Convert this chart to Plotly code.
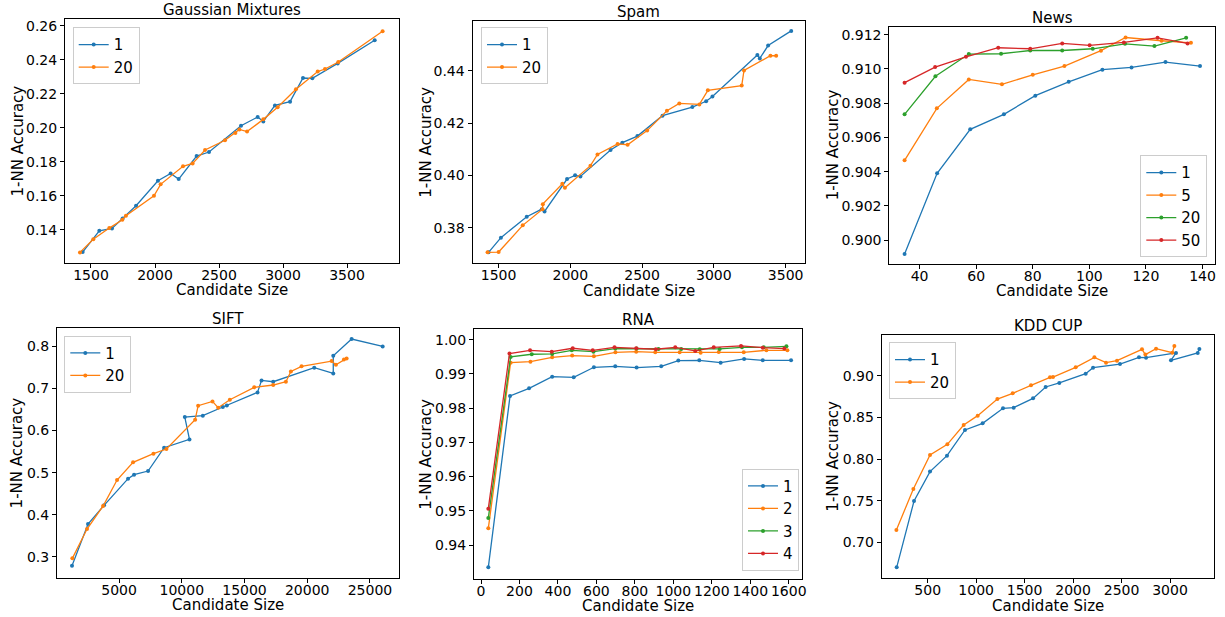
import plotly.graph_objects as go

# ---------------- data ----------------
gm_x1 = [1435, 1565, 1664, 1747, 1852, 2023, 2122, 2185, 2325, 2422, 2672, 2802, 2846, 2937, 3055, 3156, 3229, 3427, 3716]
gm_y1 = [0.1269, 0.1394, 0.1408, 0.1467, 0.1541, 0.1688, 0.1731, 0.1698, 0.1833, 0.1857, 0.2012, 0.2063, 0.2037, 0.2131, 0.2153, 0.2292, 0.2290, 0.2378, 0.2514]
gm_x20 = [1414, 1518, 1643, 1745, 1773, 1992, 2044, 2219, 2294, 2391, 2547, 2628, 2659, 2719, 2846, 2958, 3101, 3271, 3328, 3432, 3778]
gm_y20 = [0.1267, 0.1344, 0.1410, 0.1459, 0.1483, 0.1600, 0.1667, 0.1773, 0.1790, 0.1869, 0.1926, 0.1969, 0.1990, 0.1977, 0.2049, 0.2120, 0.2226, 0.2330, 0.2345, 0.2386, 0.2567]

sp_x1 = [1430, 1516, 1696, 1801, 1820, 1977, 2033, 2070, 2280, 2362, 2467, 2642, 2850, 2946, 2990, 3303, 3320, 3378, 3539]
sp_y1 = [0.3706, 0.3762, 0.3842, 0.3871, 0.3862, 0.3986, 0.4000, 0.3996, 0.4097, 0.4125, 0.4150, 0.4228, 0.4261, 0.4283, 0.4301, 0.4460, 0.4447, 0.4496, 0.4552]
sp_x20 = [1423, 1500, 1668, 1806, 1808, 1944, 1962, 2140, 2189, 2329, 2399, 2535, 2673, 2759, 2899, 2958, 3194, 3210, 3394, 3434]
sp_y20 = [0.3706, 0.3707, 0.3809, 0.3871, 0.3890, 0.3968, 0.3953, 0.4037, 0.4080, 0.4120, 0.4117, 0.4171, 0.4247, 0.4275, 0.4271, 0.4325, 0.4343, 0.4401, 0.4457, 0.4457]

nw_x1 = [34.7, 46.2, 57.9, 69.8, 80.9, 92.7, 104.6, 114.9, 126.9, 139.1]
nw_y1 = [0.89919, 0.90390, 0.90647, 0.90735, 0.90844, 0.90925, 0.90996, 0.91009, 0.91040, 0.91017]
nw_x5 = [34.7, 46.1, 57.4, 69.1, 80.0, 91.2, 104.1, 112.8, 125.5, 135.9]
nw_y5 = [0.90466, 0.90770, 0.90939, 0.90910, 0.90966, 0.91017, 0.91107, 0.91184, 0.91165, 0.91153]
nw_x20 = [34.7, 45.6, 57.4, 68.8, 79.1, 90.4, 101.2, 112.6, 123.0, 134.2]
nw_y20 = [0.90735, 0.90957, 0.91087, 0.91089, 0.91108, 0.91108, 0.91118, 0.91147, 0.91134, 0.91182]
nw_x50 = [34.7, 45.5, 56.4, 67.8, 79.1, 90.4, 100.1, 112.2, 124.1, 134.7]
nw_y50 = [0.90920, 0.91011, 0.91071, 0.91124, 0.91118, 0.91149, 0.91138, 0.91155, 0.91182, 0.91149]

sf_x1 = [1249, 2526, 3803, 5718, 6197, 7314, 8591, 10613, 10240, 11677, 13273, 13592, 16039, 16358, 17289, 20561, 22077, 22077, 23540, 26014]
sf_y1 = [0.2789, 0.3779, 0.4222, 0.4856, 0.4951, 0.5038, 0.5592, 0.5790, 0.6321, 0.6353, 0.6559, 0.6598, 0.6907, 0.7192, 0.7160, 0.7493, 0.7358, 0.7778, 0.8174, 0.8000]
sf_x20 = [1276, 2446, 3723, 4840, 6117, 7740, 8777, 11065, 11304, 12448, 12900, 13831, 15773, 17289, 18300, 18699, 19550, 21944, 22290, 22928, 23141]
sf_y20 = [0.2963, 0.3660, 0.4206, 0.4824, 0.5244, 0.5450, 0.5561, 0.6258, 0.6590, 0.6693, 0.6543, 0.6733, 0.7026, 0.7082, 0.7160, 0.7406, 0.7525, 0.7651, 0.7564, 0.7691, 0.7715]

rn_x1 = [38, 151, 250, 370, 482, 587, 698, 809, 937, 1026, 1135, 1246, 1368, 1465, 1612]
rn_y1 = [0.93350, 0.98354, 0.98578, 0.98919, 0.98900, 0.99192, 0.99221, 0.99182, 0.99221, 0.99387, 0.99396, 0.99328, 0.99435, 0.99396, 0.99396]
rn_x2 = [38, 154, 257, 370, 474, 587, 699, 807, 906, 1033, 1142, 1236, 1366, 1484, 1593]
rn_y2 = [0.94489, 0.99328, 0.99357, 0.99484, 0.99533, 0.99513, 0.99630, 0.99649, 0.99630, 0.99630, 0.99620, 0.99640, 0.99630, 0.99688, 0.99688]
rn_x3 = [38, 154, 264, 370, 472, 585, 698, 809, 923, 1041, 1137, 1241, 1357, 1470, 1588]
rn_y3 = [0.94791, 0.99494, 0.99572, 0.99581, 0.99688, 0.99649, 0.99737, 0.99737, 0.99727, 0.99727, 0.99718, 0.99727, 0.99776, 0.99776, 0.99805]
rn_x4 = [38, 148, 255, 368, 477, 581, 694, 807, 909, 1010, 1114, 1210, 1352, 1465, 1577]
rn_y4 = [0.95063, 0.99591, 0.99688, 0.99649, 0.99747, 0.99688, 0.99776, 0.99747, 0.99718, 0.99776, 0.99669, 0.99776, 0.99815, 0.99766, 0.99737]

kd_x1 = [180, 359, 524, 699, 885, 1067, 1277, 1387, 1587, 1717, 1858, 2130, 2206, 2484, 2680, 2753, 3062, 3010, 3286, 3303]
kd_y1 = [0.6699, 0.7497, 0.7850, 0.8042, 0.8351, 0.8431, 0.8611, 0.8619, 0.8731, 0.8868, 0.8916, 0.9028, 0.9100, 0.9144, 0.9224, 0.9220, 0.9277, 0.9188, 0.9277, 0.9325]
kd_x20 = [177, 352, 524, 703, 871, 1016, 1219, 1377, 1566, 1762, 1793, 2027, 2220, 2340, 2453, 2711, 2746, 2856, 3024, 3045]
kd_y20 = [0.7148, 0.7641, 0.8050, 0.8178, 0.8411, 0.8523, 0.8723, 0.8792, 0.8888, 0.8984, 0.8988, 0.9104, 0.9224, 0.9160, 0.9184, 0.9321, 0.9257, 0.9329, 0.9281, 0.9361]

titles = ["Gaussian Mixtures", "Spam", "News", "SIFT", "RNA", "KDD CUP"]
x_label = "Candidate Size"
y_label = "1-NN Accuracy"

panels = [
    [("1", gm_x1, gm_y1), ("20", gm_x20, gm_y20)],
    [("1", sp_x1, sp_y1), ("20", sp_x20, sp_y20)],
    [("1", nw_x1, nw_y1), ("5", nw_x5, nw_y5), ("20", nw_x20, nw_y20), ("50", nw_x50, nw_y50)],
    [("1", sf_x1, sf_y1), ("20", sf_x20, sf_y20)],
    [("1", rn_x1, rn_y1), ("2", rn_x2, rn_y2), ("3", rn_x3, rn_y3), ("4", rn_x4, rn_y4)],
    [("1", kd_x1, kd_y1), ("20", kd_x20, kd_y20)],
]

x_ticks = [
    [1500, 2000, 2500, 3000, 3500],
    [1500, 2000, 2500, 3000, 3500],
    [40, 60, 80, 100, 120, 140],
    [5000, 10000, 15000, 20000, 25000],
    [0, 200, 400, 600, 800, 1000, 1200, 1400, 1600],
    [500, 1000, 1500, 2000, 2500, 3000],
]
y_ticks = [
    [0.14, 0.16, 0.18, 0.20, 0.22, 0.24, 0.26],
    [0.38, 0.40, 0.42, 0.44],
    [0.900, 0.902, 0.904, 0.906, 0.908, 0.910, 0.912],
    [0.3, 0.4, 0.5, 0.6, 0.7, 0.8],
    [0.94, 0.95, 0.96, 0.97, 0.98, 0.99, 1.00],
    [0.70, 0.75, 0.80, 0.85, 0.90],
]
y_fmt = [".2f", ".2f", ".3f", ".1f", ".2f", ".2f"]

# ---------------- layout geometry (pixels) ----------------
W, H = 1225, 617
frames = [  # left, right, top, bottom
    (65, 399, 19, 263.3),
    (472.5, 805, 20.7, 263.3),
    (889.3, 1215, 26.7, 264),
    (57, 399, 327.7, 577.7),
    (474, 802, 329, 579),
    (881.7, 1214, 335, 578.3),
]
xtitle_y = [290, 290.5, 290.5, 605, 605.5, 605.5]
ytitle_x = [18.3, 425.7, 833, 16.7, 425.7, 833]
x_ranges = [(1297, 3906), (1318, 3635), (29.3, 144.4), (52, 27317), (-36.4, 1669), (25.4, 3454)]
y_ranges = [(0.1203, 0.2639), (0.3664, 0.4591), (0.89860, 0.91247), (0.2503, 0.8444), (0.93009, 1.0031), (0.6567, 0.9493)]
legend_pos = [  # x px, y px, anchor corner
    (72.7, 27.3, "tl"), (481, 27.3, "tl"), (1207.3, 257.3, "br"),
    (64.3, 335.7, "tl"), (799, 570.7, "br"), (889, 342.3, "tl"),
]
colors = ["#1f77b4", "#ff7f0e", "#2ca02c", "#d62728"]
FONT = "DejaVu Sans"

fig = go.Figure()
layout = dict(
    width=W, height=H, margin=dict(l=0, r=0, t=0, b=0),
    paper_bgcolor="white", plot_bgcolor="white",
    font=dict(family=FONT, size=14, color="black"),
    showlegend=True,
)
annotations = []
for i, series in enumerate(panels):
    n = i + 1
    sfx = "" if n == 1 else str(n)
    leg = "legend" if n == 1 else f"legend{n}"
    for j, (name, xs, ys) in enumerate(series):
        fig.add_trace(go.Scatter(
            x=xs, y=ys, name=name, mode="lines+markers",
            line=dict(color=colors[j], width=1.3),
            marker=dict(color=colors[j], size=4),
            xaxis=f"x{sfx}", yaxis=f"y{sfx}", legend=leg,
        ))
    l, r, t, b = frames[i]
    common = dict(showgrid=False, zeroline=False, showline=True, mirror=True,
                  linecolor="black", linewidth=1, ticks="outside", ticklen=4,
                  tickcolor="black", tickfont=dict(family=FONT, size=14),
                  automargin=False)
    layout[f"xaxis{sfx}"] = dict(
        domain=[l / W, r / W], range=list(x_ranges[i]), anchor=f"y{sfx}",
        tickvals=x_ticks[i], ticktext=[str(v) for v in x_ticks[i]],
        ticklabelstandoff=-5, **common)
    layout[f"yaxis{sfx}"] = dict(
        domain=[1 - b / H, 1 - t / H], range=list(y_ranges[i]), anchor=f"x{sfx}",
        tickvals=y_ticks[i], ticktext=[format(v, y_fmt[i]) for v in y_ticks[i]],
        **common)
    lx, ly, corner = legend_pos[i]
    layout[leg] = dict(
        x=lx / W, y=1 - ly / H,
        xanchor="left" if corner[1] == "l" else "right",
        yanchor="top" if corner[0] == "t" else "bottom",
        bgcolor="white", bordercolor="#cccccc", borderwidth=1,
        font=dict(family=FONT, size=15), tracegroupgap=0,
        entrywidth=30, entrywidthmode="pixels",
    )
    annotations.append(dict(
        text=titles[i], xref="paper", yref="paper",
        x=(l + r) / 2 / W, y=1 - t / H, xanchor="center", yanchor="bottom",
        yshift=-2, showarrow=False, font=dict(family=FONT, size=15),
    ))
    annotations.append(dict(
        text=x_label, xref="paper", yref="paper",
        x=(l + r) / 2 / W, y=1 - xtitle_y[i] / H, xanchor="center", yanchor="middle",
        showarrow=False, font=dict(family=FONT, size=15),
    ))
    annotations.append(dict(
        text=y_label, xref="paper", yref="paper", textangle=-90,
        x=ytitle_x[i] / W, y=1 - (t + b) / 2 / H, xanchor="center", yanchor="middle",
        showarrow=False, font=dict(family=FONT, size=15),
    ))
layout["annotations"] = annotations
fig.update_layout(**layout)
fig.write_html("out.html", config={"displayModeBar": False},
               post_script="document.body.style.margin='0';document.body.style.padding='0';")
